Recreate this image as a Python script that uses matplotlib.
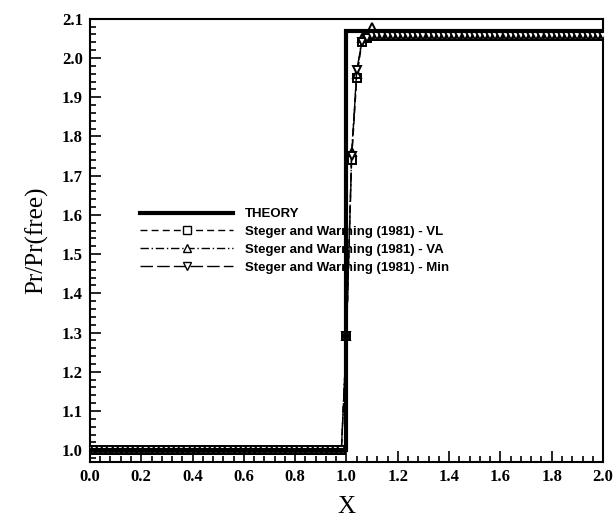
import numpy as np
import matplotlib
matplotlib.use("Agg")
import matplotlib.pyplot as plt
from matplotlib.ticker import MultipleLocator, AutoMinorLocator
from matplotlib.lines import Line2D

# ---- data ----
x_grid = np.round(np.linspace(0.0, 2.0, 101), 4)
theory_x = [0.0, 1.0, 1.0, 2.0]
theory_y = [1.0, 1.0, 2.07, 2.07]

vl_y = [1.0] * 50 + [1.29, 1.74, 1.95, 2.04, 2.05] + [2.055] * 46
va_y = [1.0] * 50 + [1.29, 1.76, 1.96, 2.05, 2.06, 2.08] + [2.055] * 45
min_y = [1.0] * 50 + [1.29, 1.75, 1.97, 2.04, 2.05] + [2.055] * 46

labels = ["THEORY",
          "Steger and Warming (1981) - VL",
          "Steger and Warming (1981) - VA",
          "Steger and Warming (1981) - Min"]

fig = plt.figure(figsize=(6.16, 5.22), dpi=100)
ax = fig.add_axes([0.146, 0.115, 0.833, 0.849])

ax.plot(theory_x, theory_y, color="black", lw=3.0, solid_joinstyle="miter", zorder=5)
ms = 6.0
mew = 1.4
ax.plot(x_grid, vl_y, color="black", lw=1.0, ls=(0, (5, 3)), marker="s", ms=ms,
        mfc="white", mec="black", mew=mew, zorder=3)
ax.plot(x_grid, va_y, color="black", lw=1.0, ls=(0, (6, 2, 1, 2)), marker="^", ms=ms,
        mfc="white", mec="black", mew=mew, zorder=3)
ax.plot(x_grid, min_y, color="black", lw=1.0, ls=(0, (9, 3)), marker="v", ms=ms,
        mfc="white", mec="black", mew=mew, zorder=3)

ax.set_xlim(0.0, 2.0)
ax.set_ylim(0.97, 2.1)
ax.xaxis.set_major_locator(MultipleLocator(0.2))
ax.xaxis.set_minor_locator(AutoMinorLocator(5))
ax.yaxis.set_major_locator(MultipleLocator(0.1))
ax.yaxis.set_minor_locator(AutoMinorLocator(5))
ax.tick_params(which="both", direction="in", top=False, right=False, width=1.2)
ax.tick_params(which="major", length=8, pad=5)
ax.tick_params(which="minor", length=4)
for s in ax.spines.values():
    s.set_linewidth(1.5)

xt = np.round(np.arange(0, 2.01, 0.2), 1)
yt = np.round(np.arange(1.0, 2.101, 0.1), 1)
ax.set_xticks(xt)
ax.set_xticklabels([f"{v:.1f}" for v in xt])
ax.set_yticks(yt)
ax.set_yticklabels([f"{v:.1f}" for v in yt])
for lab in ax.get_xticklabels() + ax.get_yticklabels():
    lab.set_fontfamily("Liberation Serif")
    lab.set_fontweight("bold")
    lab.set_fontsize(12)

ax.set_xlabel("X", fontfamily="Liberation Serif", fontsize=18, labelpad=8)
ax.set_ylabel("Pr/Pr(free)", fontfamily="Liberation Serif", fontsize=18, labelpad=10)

handles = [
    Line2D([], [], color="black", lw=3.0),
    Line2D([], [], color="black", lw=1.0, ls=(0, (5, 3)), marker="s", ms=ms, mfc="white", mec="black"),
    Line2D([], [], color="black", lw=1.0, ls=(0, (6, 2, 1, 2)), marker="^", ms=ms, mfc="white", mec="black"),
    Line2D([], [], color="black", lw=1.0, ls=(0, (9, 3)), marker="v", ms=ms, mfc="white", mec="black"),
]
leg = ax.legend(handles, labels, loc="upper left", bbox_to_anchor=(0.088, 0.585),
                frameon=False, handlelength=7.0, handletextpad=0.9, labelspacing=0.42,
                borderaxespad=0.0, markerscale=1.0,
                prop={"family": "Liberation Sans", "weight": "bold", "size": 9.5})
leg.set_zorder(10)

fig.savefig("out.png", dpi=100)
